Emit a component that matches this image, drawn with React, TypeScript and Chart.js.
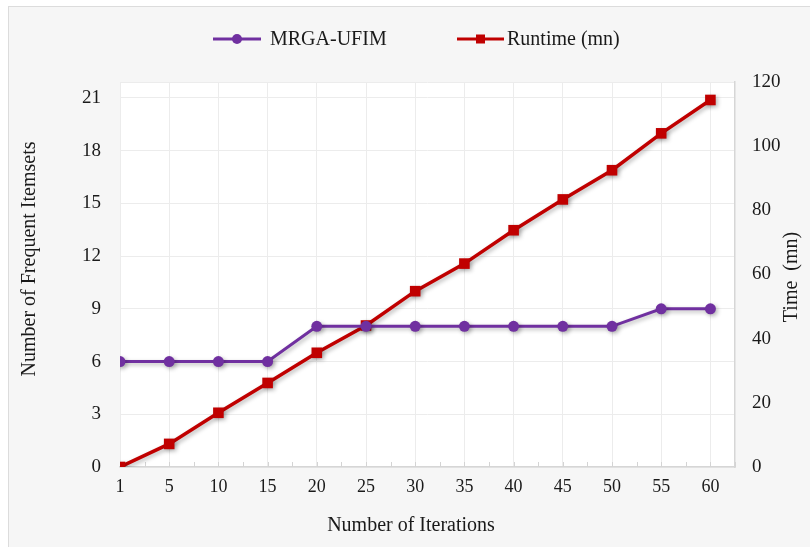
import React, { useEffect, useRef } from 'react';
import { Chart, registerables } from 'chart.js';

Chart.register(...registerables);

const iterations: string[] = ['1', '5', '10', '15', '20', '25', '30', '35', '40', '45', '50', '55', '60'];
const frequentItemsets: number[] = [6, 6, 6, 6, 8, 8, 8, 8, 8, 8, 8, 9, 9];
const runtimeMn: number[] = [0, 7.2, 16.9, 26.2, 35.6, 44.1, 54.8, 63.4, 73.8, 83.4, 92.5, 104, 114.4];
const leftTickStep = 3;
const rightTickStep = 20;
const xTitle = 'Number of Iterations';
const yTitle = 'Number of Frequent Itemsets';
const y1Title = 'Time  (mn)';

const PURPLE = '#7030A0';
const RED = '#C00000';
const FONT = "'Liberation Serif', 'Times New Roman', serif";
const TEXT = '#1a1a1a';

const framePlugin = {
  id: 'frame',
  beforeDraw(chart: any) {
    const { ctx, width, height, chartArea } = chart;
    ctx.save();
    ctx.fillStyle = '#ffffff';
    ctx.fillRect(0, 0, width, height);
    ctx.fillStyle = '#f6f6f6';
    ctx.fillRect(8, 6, width, height);
    ctx.strokeStyle = '#dcdcdc';
    ctx.lineWidth = 1;
    ctx.strokeRect(8.5, 6.5, width + 10, height + 10);
    ctx.fillStyle = '#ffffff';
    ctx.fillRect(chartArea.left, chartArea.top, chartArea.right - chartArea.left, chartArea.bottom - chartArea.top);
    ctx.restore();
  },
};

const shadowPlugin = {
  id: 'lineShadow',
  beforeDatasetsDraw(chart: any) {
    const ctx = chart.ctx;
    ctx.save();
    ctx.shadowColor = 'rgba(0,0,0,0.28)';
    ctx.shadowBlur = 4;
    ctx.shadowOffsetX = 2;
    ctx.shadowOffsetY = 2;
  },
  afterDatasetsDraw(chart: any) {
    chart.ctx.restore();
  },
};

const extrasPlugin = {
  id: 'extras',
  beforeDatasetsDraw(chart: any) {
    const { ctx, chartArea, scales } = chart;
    const xs = scales.x;
    ctx.save();
    ctx.strokeStyle = '#d4d4d4';
    ctx.lineWidth = 1;
    for (let v = 0; v <= iterations.length - 0.5; v += 0.5) {
      const px = Math.round(xs.getPixelForValue(v)) + 0.5;
      ctx.beginPath();
      ctx.moveTo(px, chartArea.bottom);
      ctx.lineTo(px, chartArea.bottom - 5);
      ctx.stroke();
    }
    ctx.restore();
  },
  afterDraw(chart: any) {
    const { ctx } = chart;
    ctx.fillStyle = TEXT;
    ctx.textAlign = 'center';

    // axis titles
    ctx.save();
    ctx.font = `20px ${FONT}`;
    ctx.textBaseline = 'alphabetic';
    ctx.fillText(xTitle, 411, 531);
    ctx.restore();

    ctx.save();
    ctx.font = `20px ${FONT}`;
    ctx.textBaseline = 'middle';
    ctx.translate(30, 259);
    ctx.rotate(-Math.PI / 2);
    ctx.fillText(yTitle, 0, 0);
    ctx.restore();

    ctx.save();
    ctx.font = `20px ${FONT}`;
    ctx.textBaseline = 'middle';
    ctx.translate(792, 277);
    ctx.rotate(-Math.PI / 2);
    ctx.fillText(y1Title, 0, 0);
    ctx.restore();

    // legend
    ctx.save();
    const y = 39;
    ctx.font = `20px ${FONT}`;
    ctx.textBaseline = 'middle';
    ctx.textAlign = 'left';
    ctx.lineWidth = 3;
    ctx.strokeStyle = PURPLE;
    ctx.beginPath();
    ctx.moveTo(213, y);
    ctx.lineTo(261, y);
    ctx.stroke();
    ctx.fillStyle = PURPLE;
    ctx.beginPath();
    ctx.arc(237, y, 5, 0, Math.PI * 2);
    ctx.fill();
    ctx.fillStyle = TEXT;
    ctx.fillText(chart.data.datasets[0].label, 270, y + 1);

    ctx.strokeStyle = RED;
    ctx.beginPath();
    ctx.moveTo(457, y);
    ctx.lineTo(504, y);
    ctx.stroke();
    ctx.fillStyle = RED;
    ctx.fillRect(476, y - 4.5, 9, 9);
    ctx.fillStyle = TEXT;
    ctx.fillText(chart.data.datasets[1].label, 507, y + 1);
    ctx.restore();
  },
};

export default function App() {
  const canvasRef = useRef<HTMLCanvasElement | null>(null);

  useEffect(() => {
    document.body.style.margin = '0';
    const canvas = canvasRef.current;
    if (!canvas) return;
    const chart = new Chart(canvas, {
      type: 'line',
      data: {
        datasets: [
          {
            label: 'MRGA-UFIM',
            data: frequentItemsets.map((v, i) => ({ x: i, y: v })),
            yAxisID: 'y',
            borderColor: PURPLE,
            backgroundColor: PURPLE,
            borderWidth: 3,
            pointStyle: 'circle',
            pointRadius: 5.5,
            pointBorderWidth: 0,
            tension: 0,
          },
          {
            label: 'Runtime (mn)',
            data: runtimeMn.map((v, i) => ({ x: i, y: v })),
            yAxisID: 'y1',
            borderColor: RED,
            backgroundColor: RED,
            borderWidth: 3.5,
            pointStyle: 'rect',
            pointRadius: 7.5,
            pointBorderWidth: 0,
            tension: 0,
          },
        ],
      },
      options: {
        responsive: false,
        animation: false,
        layout: { padding: { top: 82, left: 0, right: 0, bottom: 0 } },
        plugins: {
          legend: { display: false },
          tooltip: { enabled: false },
        },
        scales: {
          x: {
            type: 'linear',
            min: 0,
            max: iterations.length - 0.5,
            afterFit: (s: any) => { s.height = 80; },
            afterBuildTicks: (s: any) => {
              s.ticks = iterations.map((_, i) => ({ value: i }));
            },
            ticks: {
              padding: 9,
              color: TEXT,
              font: { family: FONT, size: 18 },
              maxRotation: 0,
              autoSkip: false,
              callback: (v: any) => iterations[v as number] ?? '',
            },
            grid: { color: '#ececec', drawTicks: false, lineWidth: 1 },
            border: { display: true, color: '#d6d6d6', width: 1.5 },
            title: { display: false },
          },
          y: {
            type: 'linear',
            position: 'left',
            min: 0,
            max: 21.9,
            afterFit: (s: any) => { s.width = 120; },
            afterBuildTicks: (s: any) => {
              const t = [];
              for (let v = 0; v <= 21; v += leftTickStep) t.push({ value: v });
              t.push({ value: 21.9 });
              s.ticks = t;
            },
            ticks: {
              padding: 19,
              color: TEXT,
              font: { family: FONT, size: 19 },
              callback: (v: any) => (Number(v) % leftTickStep === 0 ? String(v) : ''),
            },
            grid: { color: '#ececec', drawTicks: false },
            border: { display: false },
            title: { display: false },
          },
          y1: {
            type: 'linear',
            position: 'right',
            min: 0,
            max: 120,
            afterFit: (s: any) => { s.width = 75; },
            ticks: {
              stepSize: rightTickStep,
              padding: 17,
              color: TEXT,
              font: { family: FONT, size: 19 },
            },
            grid: { display: false, drawTicks: false },
            border: { display: true, color: '#d6d6d6', width: 1.5 },
          },
        },
      },
      plugins: [framePlugin, extrasPlugin, shadowPlugin],
    } as any);
    return () => chart.destroy();
  }, []);

  return <canvas ref={canvasRef} width={810} height={547} style={{ display: 'block' }} />;
}
